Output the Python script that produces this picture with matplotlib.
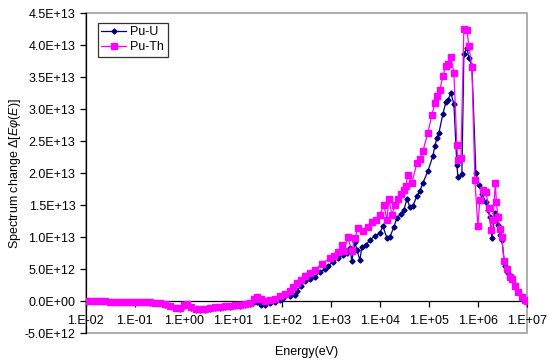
import numpy as np
import matplotlib
matplotlib.use("Agg")
import matplotlib.pyplot as plt
from matplotlib.patches import Rectangle
from matplotlib.ticker import FixedLocator, FuncFormatter

plt.rcParams['font.family'] = ['Liberation Sans', 'DejaVu Sans']
plt.rcParams['mathtext.fontset'] = 'custom'
plt.rcParams['mathtext.it'] = 'Liberation Sans:italic'
plt.rcParams['mathtext.rm'] = 'Liberation Sans'

# Energy grid (eV) and spectrum change (units of 1e13)
e_th = [0.01, 0.0121, 0.0153, 0.0193, 0.0244, 0.0309, 0.0391, 0.0494, 0.0625, 0.079,
        0.1, 0.126, 0.16, 0.202, 0.256, 0.324, 0.409, 0.518,
        0.687, 0.828, 1.0, 1.15, 1.39, 1.76, 2.12, 2.68, 3.40, 4.30, 5.43, 6.87, 8.69, 11.0,
        13.9, 17.6, 22.2, 26.8, 30.9, 37.3, 45.0, 56.9, 71.9, 91.0, 115,
        146, 168, 202, 244, 294, 372, 471, 655, 955, 1150,
        1390, 1680, 1840, 2220, 2680, 3090, 3560, 4500, 5690, 6870,
        8280, 10000, 12070, 13900, 15270, 17590, 20240, 23300, 26840, 30900,
        33960, 37270, 45000, 56900, 65500, 75500, 95500, 115000, 132500, 145600,
        167600, 193000, 222300, 244400, 281300, 323900, 372800, 390900, 449900, 517900,
        596600, 654600, 754800, 869000, 1.0e6, 1.099e6, 1.265e6, 1.456e6, 1.676e6, 1.842e6,
        2.024e6, 2.275e6, 2.388e6, 2.56e6, 2.81e6, 3.09e6, 3.40e6, 3.91e6, 4.50e6, 4.94e6,
        5.69e6, 6.55e6, 7.91e6, 9.1e6, 1.0e7]
d_th = [0.0, 0.0, 0.0, 0.0, 0.0, -0.008, -0.008, -0.008, -0.008, -0.016,
        -0.016, -0.016, -0.016, -0.016, -0.023, -0.031, -0.047, -0.078,
        -0.102, -0.109, -0.063, -0.047, -0.094, -0.125, -0.125, -0.117, -0.109, -0.094, -0.086, -0.078, -0.070, -0.063,
        -0.055, -0.047, -0.031, 0.031, 0.063, 0.031, 0.0, 0.016, 0.031, 0.078, 0.109,
        0.156, 0.219, 0.281, 0.328, 0.391, 0.438, 0.484, 0.578, 0.672, 0.703,
        0.766, 0.875, 0.781, 1.0, 0.781, 0.984, 1.141, 1.094, 1.156, 1.234,
        1.266, 1.344, 1.5, 1.266, 1.594, 1.344, 1.5, 1.594, 1.672, 1.734,
        1.797, 1.969, 1.844, 2.156, 2.219, 2.344, 2.625, 2.906, 3.094, 3.203,
        3.297, 3.516, 3.672, 3.703, 3.813, 3.563, 2.438, 2.203, 2.234, 4.25,
        4.234, 3.984, 3.656, 1.891, 1.172, 1.578, 1.734, 1.703, 1.453, 1.109,
        1.266, 1.844, 1.547, 1.313, 1.125, 1.0, 0.625, 0.5, 0.375, 0.344,
        0.234, 0.141, 0.063, 0.016, 0.0]

e_u = [0.01, 0.0193, 0.0309, 0.0494, 0.079, 0.126, 0.202, 0.324, 0.409, 0.518,
       0.828, 1.0, 1.15, 1.39, 1.76, 2.12, 2.68, 3.40, 4.30, 5.43, 6.87, 8.69, 11.0,
       13.9, 17.6, 22.2, 26.8, 30.9, 37.3,
       45.0, 56.9, 71.9, 91.0, 105, 146, 184, 202, 244, 294,
       372, 471, 597, 755, 869, 1099, 1390, 1758, 2122, 2443,
       2680, 3090, 3396, 3909, 4295, 5179, 6250, 7906, 10000, 11510,
       13900, 16000, 19300, 22230, 26840, 30900, 35580, 40930, 47100, 56900,
       65500, 75500, 95500, 120800, 132500, 145600, 160000, 193000, 222300, 244400,
       281300, 323900, 372800, 390900, 471300, 517900, 596600, 654600, 754800, 910500,
       1.048e6, 1.207e6, 1.456e6, 1.6e6, 1.758e6, 1.932e6, 2.223e6, 2.443e6, 2.56e6, 2.81e6,
       3.09e6, 3.556e6, 4.093e6, 4.94e6, 5.69e6, 6.55e6, 7.91e6, 9.1e6, 1.0e7]
d_u = [0.0, 0.0, -0.008, -0.008, -0.016, -0.016, -0.023, -0.031, -0.055, -0.078,
       -0.117, -0.070, -0.063, -0.109, -0.141, -0.141, -0.133, -0.125, -0.109, -0.102, -0.094, -0.086, -0.078,
       -0.070, -0.063, -0.047, -0.016, -0.016, -0.063,
       -0.063, -0.031, -0.016, 0.016, 0.047, 0.078, 0.094, 0.156, 0.234, 0.313,
       0.344, 0.375, 0.453, 0.5, 0.547, 0.609, 0.672, 0.719, 0.75, 0.828,
       0.625, 0.922, 0.797, 0.641, 0.844, 0.875, 0.953, 1.016, 1.063, 1.172,
       0.984, 1.0, 1.156, 1.297, 1.359, 1.422, 1.594, 1.469, 1.484, 1.641,
       1.719, 1.844, 2.031, 2.266, 2.422, 2.547, 2.625, 2.922, 3.109, 3.141,
       3.25, 3.078, 2.125, 1.938, 1.984, 3.859, 3.953, 3.797, 3.672, 2.0,
       1.813, 1.672, 1.547, 1.422, 1.313, 0.984, 1.375, 1.297, 1.188, 1.031,
       0.953, 0.547, 0.438, 0.328, 0.219, 0.141, 0.063, 0.016, 0.0]

x_ticks = [1e-2, 1e-1, 1e0, 1e1, 1e2, 1e3, 1e4, 1e5, 1e6, 1e7]
y_ticks = np.arange(-0.5e13, 4.51e13, 0.5e13)

fig = plt.figure(figsize=(5.5, 3.62), dpi=100)
ax = fig.add_axes([0.156, 0.080, 0.802, 0.884])

ax.plot(e_u, np.array(d_u) * 1e13, color='#000080', lw=0.9, marker='D',
        ms=2.6, mec='#000080', mfc='#000080', label='Pu-U', zorder=2)
ax.plot(e_th, np.array(d_th) * 1e13, color='#ff00ff', lw=0.9, marker='s',
        ms=3.8, mec='#ff00ff', mfc='#ff00ff', label='Pu-Th', zorder=3)

ax.set_xscale('log')
ax.set_xlim(1e-2, 1e7)
ax.set_ylim(-0.5e13, 4.5e13)

ax.xaxis.set_major_locator(FixedLocator(x_ticks))
ax.xaxis.set_minor_locator(FixedLocator([]))
ax.xaxis.set_major_formatter(FuncFormatter(lambda v, p: '1.E%+03d' % round(np.log10(v))))
ax.yaxis.set_major_locator(FixedLocator(y_ticks))


def yfmt(v, p):
    if abs(v) < 1:
        return '0.0E+00'
    return '%.1E' % v


ax.yaxis.set_major_formatter(FuncFormatter(yfmt))

for s in ['top', 'right']:
    ax.spines[s].set_visible(False)
ax.spines['bottom'].set_position(('data', 0))
ax.spines['bottom'].set_linewidth(0.9)
ax.spines['left'].set_linewidth(0.9)
ax.spines['bottom'].set_zorder(1)
ax.add_patch(Rectangle((0, 0), 1, 1, transform=ax.transAxes, fill=False,
                       edgecolor='#a0a0a0', lw=1.2, clip_on=False, zorder=0))

ax.tick_params(axis='both', direction='out', length=4, width=0.9, labelsize=9, color='black')
ax.tick_params(axis='x', pad=6)

ax.set_xlabel('Energy(eV)', fontsize=9)
ax.xaxis.set_label_coords(0.5, -0.04)
ax.set_ylabel(r'Spectrum change $\mathit{\Delta}[E\varphi(E)]$', fontsize=9)
ax.yaxis.set_label_coords(-0.143, 0.5)

leg = ax.legend(loc='upper left', bbox_to_anchor=(0.027, 0.97), fontsize=9, frameon=True,
                fancybox=False, edgecolor='black', borderpad=0.3, labelspacing=0.2,
                handlelength=2.0, handletextpad=0.3, borderaxespad=0)
leg.get_frame().set_linewidth(0.9)

fig.savefig('out.png', dpi=100)
